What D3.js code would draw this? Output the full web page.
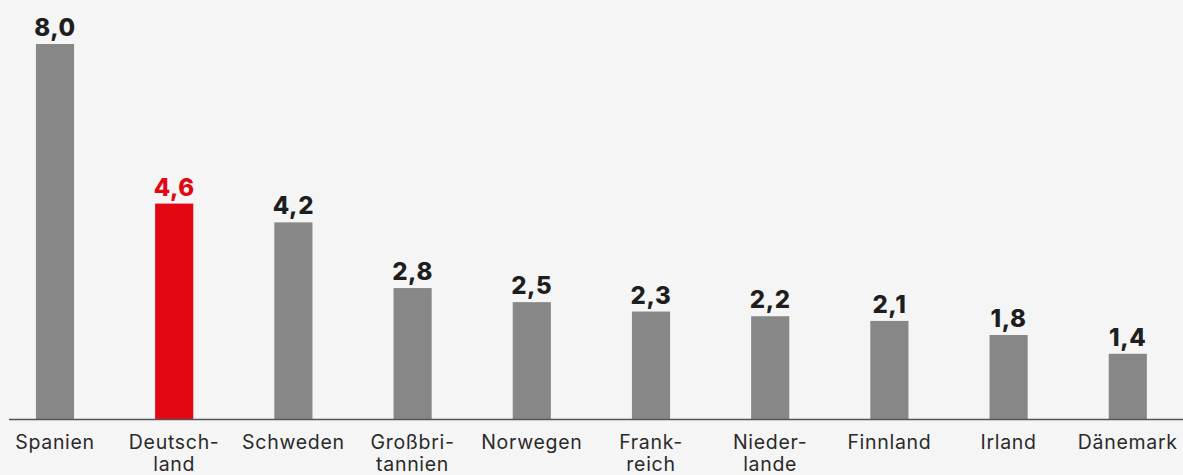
<!DOCTYPE html>
<html><head><meta charset="utf-8">
<script src="https://cdn.jsdelivr.net/npm/d3@7"></script>
<style>
html,body{margin:0;padding:0;background:#f5f5f5;}
svg{display:block;}
</style></head>
<body>
<div id="chart"></div>
<script>
const categories = ["Spanien", "Deutsch-\nland", "Schweden", "Großbri-\ntannien", "Norwegen", "Frank-\nreich", "Nieder-\nlande", "Finnland", "Irland", "Dänemark"];
const values = [8.0, 4.6, 4.2, 2.8, 2.5, 2.3, 2.2, 2.1, 1.8, 1.4];
const highlight = ["Deutsch-\nland"];

const W = 1183, H = 475;
const svg = d3.select("#chart").append("svg").attr("width", W).attr("height", H);
svg.append("rect").attr("width", W).attr("height", H).attr("fill", "#f5f5f5");

const baseY = 419.5;
const x = d3.scaleBand().domain(categories).range([-4.6, 1187.4]).paddingInner(0.68).paddingOuter(0.34);
const y = d3.scaleLinear().domain([0, 8]).range([baseY, 44]);

const data = categories.map((c, i) => ({c, v: values[i]}));

svg.selectAll("rect.bar").data(data).enter().append("rect")
  .attr("class", "bar")
  .attr("x", d => x(d.c)).attr("width", x.bandwidth())
  .attr("y", d => y(d.v)).attr("height", d => baseY - y(d.v))
  .attr("fill", d => highlight.includes(d.c) ? "#e30613" : "#878787");

svg.append("line").attr("x1", 9).attr("x2", W).attr("y1", baseY).attr("y2", baseY)
  .attr("stroke", "#555").attr("stroke-width", 1.5);

svg.selectAll("text.val").data(data).enter().append("text")
  .attr("class", "val")
  .attr("x", d => x(d.c) + x.bandwidth()/2)
  .attr("y", d => y(d.v) - 8)
  .attr("text-anchor", "middle")
  .attr("font-family", "Inter, 'Open Sans', sans-serif")
  .attr("font-weight", 800)
  .attr("font-size", 24)
  .attr("letter-spacing", 0.6)
  .attr("fill", d => highlight.includes(d.c) ? "#e30613" : "#1e1e1e")
  .text(d => d3.format(".1f")(d.v).replace(".", ","));

const lab = svg.selectAll("text.cat").data(data).enter().append("text")
  .attr("class", "cat")
  .attr("x", d => x(d.c) + x.bandwidth()/2)
  .attr("y", 449)
  .attr("text-anchor", "middle")
  .attr("font-family", "Inter, 'Open Sans', sans-serif")
  .attr("font-size", 19.5)
  .attr("letter-spacing", 0.7)
  .attr("fill", "#2a2a2a");
lab.each(function(d){
  const t = d3.select(this);
  d.c.split("\n").forEach((line, i) => {
    t.append("tspan").attr("x", x(d.c) + x.bandwidth()/2).attr("dy", i === 0 ? 0 : 21.5).text(line);
  });
});
</script>
</body></html>
